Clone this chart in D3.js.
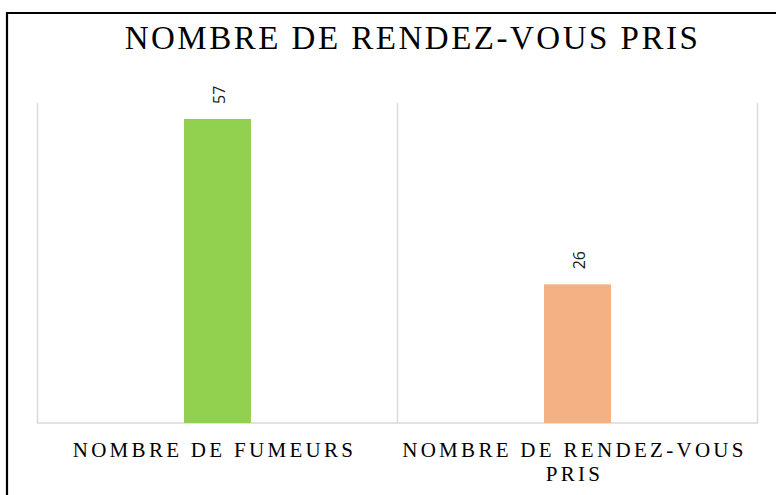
<!DOCTYPE html>
<html>
<head>
<meta charset="utf-8">
<script src="https://cdn.jsdelivr.net/npm/d3@7"></script>
<style>
html,body{margin:0;padding:0;background:#fff;}
svg{display:block;}
</style>
</head>
<body>
<svg id="chart" width="776" height="495"></svg>
<script>
const title = "NOMBRE DE RENDEZ-VOUS PRIS";
const categories = ["NOMBRE DE FUMEURS", "NOMBRE DE RENDEZ-VOUS PRIS"];
const categoryLines = [["NOMBRE DE FUMEURS"], ["NOMBRE DE RENDEZ-VOUS", "PRIS"]];
const values = [57, 26];
const colors = ["#92d050", "#f4b183"];
const yMax = 60;

(function () {
const svg = d3.select("#chart");
const W = 776, H = 495;

// outer frame
svg.append("path")
  .attr("d", `M7,${H+5} L7,13 L${W+5},13`)
  .attr("fill", "none").attr("stroke", "#000").attr("stroke-width", 2.2);

const pLeft = 37.5, pRight = 757.5, pTop = 103, pBottom = 423;

const x = d3.scaleBand().domain(categories).range([pLeft, pRight]).padding(0);
const y = d3.scaleLinear().domain([0, yMax]).range([pBottom, pTop]);

// vertical gridlines at band boundaries
const bounds = categories.map(c => x(c)).concat([x(categories[categories.length-1]) + x.bandwidth()]);
svg.append("g").selectAll("line").data(bounds).join("line")
  .attr("x1", d => d).attr("x2", d => d)
  .attr("y1", y(yMax)).attr("y2", y(0))
  .attr("stroke", "#d9d9d9").attr("stroke-width", 1.5);

// baseline
svg.append("line")
  .attr("x1", pLeft - 0.75).attr("x2", pRight + 0.75)
  .attr("y1", y(0)).attr("y2", y(0))
  .attr("stroke", "#d9d9d9").attr("stroke-width", 1.5);

const barW = x.bandwidth() * 0.186;
svg.append("g").selectAll("rect").data(values).join("rect")
  .attr("x", (d, i) => x(categories[i]) + x.bandwidth() / 2 - barW / 2)
  .attr("y", d => y(d))
  .attr("width", barW)
  .attr("height", d => y(0) - y(d))
  .attr("fill", (d, i) => colors[i]);

// value labels rotated
svg.append("g").selectAll("text").data(values).join("text")
  .attr("transform", (d, i) => `translate(${x(categories[i]) + x.bandwidth() / 2 + 1},${y(d) - 15}) rotate(-90)`)
  .attr("text-anchor", "start")
  .attr("dominant-baseline", "central")
  .attr("font-family", "'Open Sans', 'DejaVu Sans', sans-serif")
  .attr("font-size", 16)
  .attr("fill", "#1a1a1a")
  .text(d => d);

// title
svg.append("text")
  .attr("x", (pLeft + pRight) / 2 + 15).attr("y", 49)
  .attr("text-anchor", "middle")
  .attr("font-family", "'Liberation Serif', 'Times New Roman', serif")
  .attr("font-size", 33)
  .attr("letter-spacing", 2.5)
  .attr("fill", "#000")
  .text(title);

// category labels
const cat = svg.append("g");
categoryLines.forEach((lines, i) => {
  lines.forEach((ln, j) => {
    cat.append("text")
      .attr("x", x(categories[i]) + x.bandwidth() / 2 - 3)
      .attr("y", 457 + j * 24)
      .attr("text-anchor", "middle")
      .attr("font-family", "'Liberation Serif', 'Times New Roman', serif")
      .attr("font-size", 21)
      .attr("letter-spacing", 3.3)
      .attr("fill", "#000")
      .text(ln);
  });
});
})();
</script>
</body>
</html>
